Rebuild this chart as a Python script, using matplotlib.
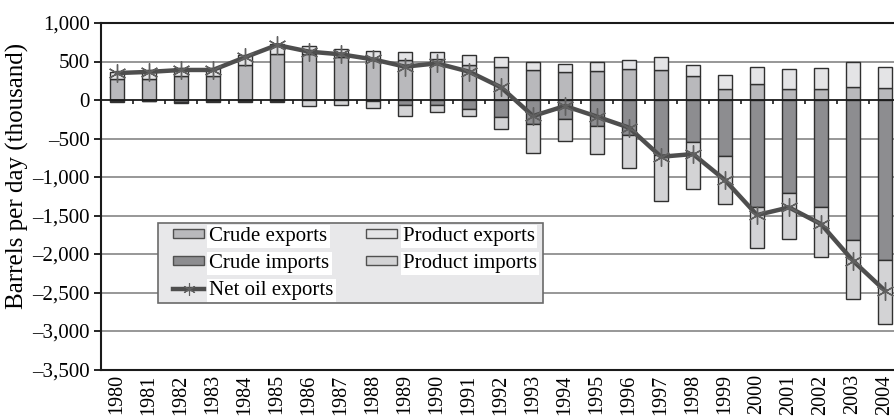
import matplotlib
matplotlib.use("Agg")
import matplotlib.pyplot as plt
from matplotlib.patches import Patch, Rectangle
from matplotlib.lines import Line2D
from matplotlib.ticker import FuncFormatter
import numpy as np

years = list(range(1980, 2005))

# thousand barrels per day
crude_exports = [270, 270, 310, 310, 455, 600, 600, 560, 530, 520, 530, 460, 433,
                 390, 368, 381, 407, 392, 312, 139, 203, 147, 143, 165, 156]
product_exports = [99, 107, 101, 101, 130, 127, 102, 103, 100, 99, 89, 125, 121,
                   99, 100, 108, 117, 162, 147, 181, 221, 251, 268, 333, 277]
crude_imports = [-10, -8, -20, -15, -8, -8, -5, -5, -13, -69, -61, -121, -225,
                 -316, -247, -342, -455, -720, -541, -730, -1395, -1204, -1395, -1819, -2079]
product_imports = [-12, -7, -15, -15, -14, -14, -69, -64, -95, -139, -91, -87, -152,
                   -377, -286, -364, -424, -588, -615, -626, -532, -602, -649, -767, -831]
net_exports = [350, 365, 390, 390, 555, 714, 628, 593, 528, 433, 476, 368, 165,
               -208, -78, -216, -359, -737, -702, -1040, -1494, -1395, -1611, -2088, -2477]

serif = ["Liberation Serif", "DejaVu Serif"]
plt.rcParams["font.family"] = serif
plt.rcParams["font.size"] = 15

c_crude_exp = "#b9b9bc"
c_prod_exp = "#e4e4e6"
c_crude_imp = "#8d8d90"
c_prod_imp = "#d3d3d5"
edge = "#303030"

fig = plt.figure(figsize=(8.94, 4.18), dpi=100)
# plot area runs slightly past the right edge of the image
ax = fig.add_axes([101 / 894, (418 - 369.5) / 418, 800 / 894, 346.5 / 418])

x = np.arange(len(years))
w = 0.42

ax.bar(x, crude_exports, w, color=c_crude_exp, edgecolor=edge, linewidth=1, zorder=3)
ax.bar(x, product_exports, w, bottom=crude_exports, color=c_prod_exp,
       edgecolor=edge, linewidth=1, zorder=3)
ax.bar(x, crude_imports, w, color=c_crude_imp, edgecolor=edge, linewidth=1, zorder=3)
ax.bar(x, product_imports, w, bottom=crude_imports, color=c_prod_imp,
       edgecolor=edge, linewidth=1, zorder=3)

ax.plot(x, net_exports, color="#4e4e4e", linewidth=3.2, zorder=5)
ax.plot(x, net_exports, linestyle="none", marker=(6, 2, 0), markersize=13,
        markeredgecolor="#606060", markeredgewidth=1.0, zorder=6)

ax.set_xlim(-0.5, len(years) - 0.5)
ax.set_ylim(-3500, 1000)

# horizontal gridlines
for yv in range(-3000, 1000, 500):
    if yv != 0:
        ax.axhline(yv, color="#7a7a7a", linewidth=1.1, zorder=1)
# category axis crossing at zero with ticks between categories
ax.axhline(0, color="#1a1a1a", linewidth=1.3, zorder=4)
ax.vlines(np.arange(len(years) - 1) + 0.5, -55, 0, color="#1a1a1a", linewidth=1.2, zorder=4)

ax.set_yticks(range(-3500, 1001, 500))
ax.yaxis.set_major_formatter(FuncFormatter(
    lambda v, p: ("\u2013" if v < 0 else "") + f"{abs(int(v)):,}"))
ax.tick_params(axis="y", direction="out", length=5, width=1.2, pad=3, labelsize=15)

ax.set_xticks(x)
ax.set_xticklabels([str(y) for y in years], rotation=90)
ax.tick_params(axis="x", length=0, pad=3.5, labelsize=14.5)

for s in ["left", "bottom", "top"]:
    ax.spines[s].set_color("#1a1a1a")
    ax.spines[s].set_linewidth(1.5)
ax.spines["right"].set_visible(False)

ax.set_ylabel("Barrels per day (thousand)", fontsize=18)
ax.yaxis.set_label_coords(-0.09, 0.558)

# legend box
box_x0, box_x1 = (158 - 101) / 800, (543 - 101) / 800
box_y0, box_y1 = (369.5 - 303) / 346.5, (369.5 - 223) / 346.5
ax.add_patch(Rectangle((box_x0, box_y0), box_x1 - box_x0, box_y1 - box_y0,
                       transform=ax.transAxes, facecolor="#e8e8ea",
                       edgecolor="#6a6a6a", linewidth=1.2, zorder=9))

handles = [
    Patch(facecolor=c_crude_exp, edgecolor="#505050", linewidth=1),
    Patch(facecolor=c_crude_imp, edgecolor="#505050", linewidth=1),
    Line2D([], [], color="#4e4e4e", linewidth=3.2, marker=(6, 2, 0),
           markersize=9, markeredgecolor="#606060", markeredgewidth=0.8),
    Patch(facecolor=c_prod_exp, edgecolor="#505050", linewidth=1),
    Patch(facecolor=c_prod_imp, edgecolor="#505050", linewidth=1),
]
labels = ["Crude exports", "Crude imports", "Net oil exports",
          "Product exports", "Product imports"]
leg = ax.legend(handles, labels, ncol=2, loc="upper left",
                bbox_to_anchor=((173 - 101) / 800, (369.5 - 227) / 346.5),
                frameon=False, fontsize=15, handlelength=1.5, handleheight=0.25,
                handletextpad=0.25, columnspacing=1.55, labelspacing=0.38,
                borderpad=0, borderaxespad=0)
leg.set_zorder(10)
for t in leg.get_texts():
    t.set_bbox(dict(facecolor="white", edgecolor="none", pad=1.5))

fig.savefig("out.png", dpi=100)
